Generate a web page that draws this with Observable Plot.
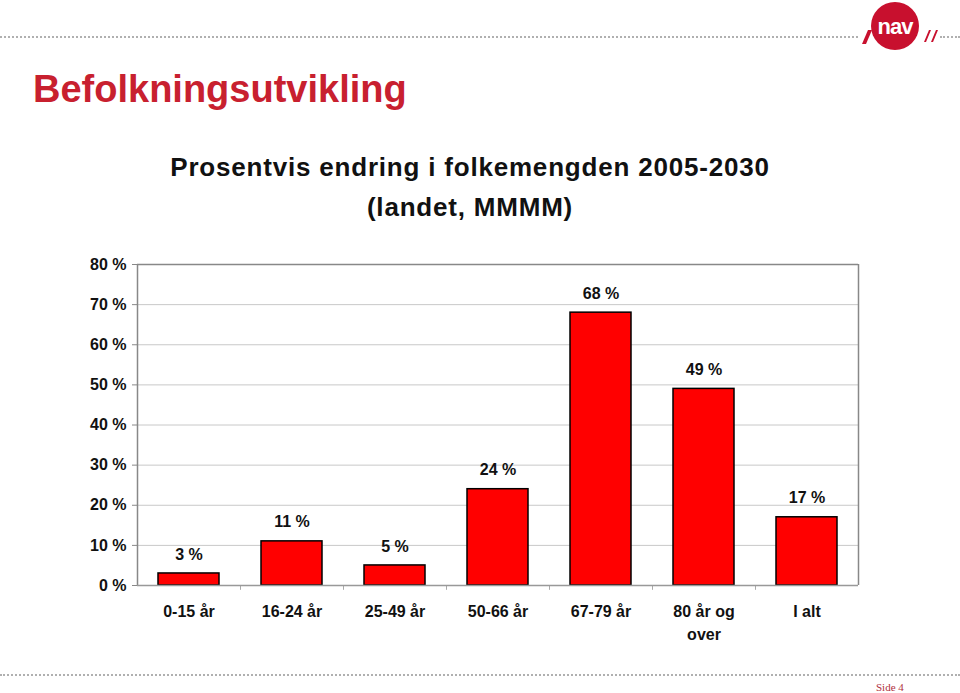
<!DOCTYPE html>
<html>
<head>
<meta charset="utf-8">
<script src="https://cdn.jsdelivr.net/npm/d3@7"></script>
<script src="https://cdn.jsdelivr.net/npm/@observablehq/plot@0.6"></script>
<style>
  html, body { margin: 0; padding: 0; background: #fff; }
  body { width: 960px; height: 693px; position: relative; overflow: hidden; font-family: "Liberation Sans", Arial, sans-serif; }
  .abs { position: absolute; white-space: nowrap; line-height: 1; }
  #chart { position: absolute; left: 0; top: 0; }
  .dots { position: absolute; height: 0; border-top: 2px dotted #b0b0b0; }
</style>
</head>
<body>
<div class="dots" style="left:0; top:36px; width:858px;"></div>
<div class="dots" style="left:940px; top:36px; width:20px;"></div>
<div class="dots" style="left:0; top:674px; width:960px;"></div>
<svg class="abs" style="left:850px; top:0px;" width="110" height="52" viewBox="0 0 110 52">
  <polygon points="12,44 18,30 22,30 16,44" fill="#c8102e"/>
  <circle cx="45" cy="26" r="24" fill="#c8102e"/>
  <text x="45" y="34" text-anchor="middle" font-family="Liberation Sans, Arial" font-weight="bold" font-size="22" fill="#fff" letter-spacing="-1">nav</text>
  <polygon points="74,42 79,30 81,30 76,42" fill="#c8102e"/>
  <polygon points="81,42 86,30 88,30 83,42" fill="#c8102e"/>
</svg>
<div class="abs" style="left:33px; top:70px; font-size:38px; font-weight:bold; color:#c8202f;">Befolkningsutvikling</div>
<div class="abs" style="left:0; width:940px; top:154px; text-align:center; font-size:26px; font-weight:bold; color:#111; letter-spacing:0.8px;">Prosentvis endring i folkemengden 2005-2030</div>
<div class="abs" style="left:0; width:940px; top:194px; text-align:center; font-size:26px; font-weight:bold; color:#111; letter-spacing:0.8px;">(landet, MMMM)</div>
<div class="abs" style="left:876px; top:682px; font-size:11px; font-family:'Liberation Serif', 'Times New Roman', serif; color:#b03040;">Side 4</div>
<div id="chart"></div>
<script>
const categories = ["0-15 år", "16-24 år", "25-49 år", "50-66 år", "67-79 år", "80 år og over", "I alt"];
const values = [3, 11, 5, 24, 68, 49, 17];
const yTicks = [0, 10, 20, 30, 40, 50, 60, 70, 80];

const data = categories.map((c, i) => ({category: c, value: values[i]}));
const step = (858 - 137) / categories.length;

const chart = Plot.plot({
  width: 960,
  height: 693,
  marginLeft: 137,
  marginRight: 102,
  marginTop: 264,
  marginBottom: 108,
  style: {fontFamily: "'Liberation Sans', Arial, sans-serif", fontSize: "16px", fontWeight: "bold", color: "#111", background: "transparent"},
  x: {domain: categories, paddingInner: 0.41, paddingOuter: 0.205, label: null},
  y: {domain: [0, 80], label: null},
  marks: [
    Plot.ruleY(yTicks.filter(d => d > 0 && d < 80), {stroke: "#c8c8c8", strokeWidth: 1}),
    Plot.ruleY([80], {stroke: "#888", strokeWidth: 1.5}),
    Plot.ruleX([categories[categories.length - 1]], {stroke: "#888", strokeWidth: 1.5, dx: step / 2, y1: 0, y2: 80}),
    Plot.ruleX(categories.slice(1), {stroke: "#aaa", y1: 0, y2: -1.2, dx: -step / 2}),
    Plot.barY(data, {x: "category", y: "value", fill: "#ff0000", stroke: "#000", strokeWidth: 1.5}),
    Plot.text(data, {x: "category", y: "value", text: d => d.value + " %", dy: -19, fontSize: 16, fontWeight: "bold", fill: "#111", letterSpacing: "0.8px"}),
    Plot.axisY({ticks: yTicks, tickFormat: d => d + " %", tickSize: 5, tickPadding: 6, stroke: "#888", fontSize: 16, fontWeight: "bold", letterSpacing: "0.6px"}),
    Plot.ruleX([categories[0]], {stroke: "#888", strokeWidth: 1.5, dx: -step / 2, y1: 0, y2: 80}),
    Plot.ruleY([0], {stroke: "#999", strokeWidth: 1.5}),
    Plot.axisX({tickSize: 0, tickPadding: 15, fontSize: 16, fontWeight: "bold", lineHeight: 1.45, letterSpacing: "1.2px",
      tickFormat: d => d === "80 år og over" ? "80 år og\nover" : d})
  ]
});
document.getElementById("chart").appendChild(chart);
</script>
</body>
</html>
